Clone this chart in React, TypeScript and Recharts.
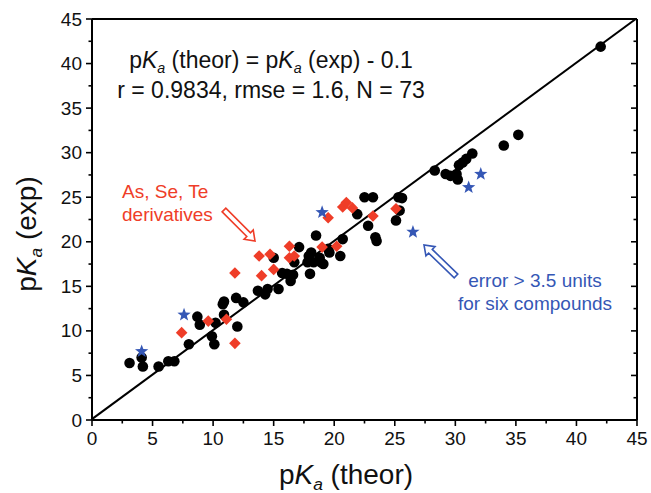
import React from "react";
import { ReferenceLine, Scatter, ScatterChart, XAxis, YAxis } from "recharts";

// [pKa theor, pKa exp]
const mainCompounds: [number, number][] = [
  [3.1, 6.4], [4.1, 7.0], [4.2, 6.0], [5.5, 6.0], [6.3, 6.6], [6.8, 6.6],
  [8.0, 8.5], [8.7, 11.6], [8.9, 10.7], [9.9, 9.4], [10.1, 8.5], [10.2, 10.9],
  [10.8, 13.0], [10.9, 13.3], [10.9, 11.8], [11.9, 13.7], [12.0, 10.5], [12.5, 13.2],
  [13.7, 14.5], [14.3, 14.1], [14.5, 14.7], [15.0, 18.2], [15.4, 14.7], [15.7, 16.5],
  [16.1, 16.4], [16.4, 15.6], [16.6, 16.3], [16.7, 17.7], [17.1, 19.4], [17.8, 17.7],
  [17.9, 18.4], [18.1, 18.8], [18.3, 17.7], [18.0, 16.4], [18.5, 20.7], [18.8, 18.2],
  [18.9, 17.7], [19.1, 17.5], [19.5, 19.2], [19.6, 18.8], [20.5, 18.4], [20.7, 20.3],
  [21.9, 23.1], [22.5, 25.0], [23.2, 25.0], [22.8, 21.8], [23.4, 20.5], [23.5, 20.1],
  [25.1, 22.4], [25.3, 25.0], [25.6, 24.9], [25.4, 23.5], [28.3, 28.0], [29.2, 27.6],
  [29.6, 27.4], [30.1, 27.6], [30.2, 27.0], [30.3, 28.6], [30.6, 28.9], [30.9, 29.3],
  [31.4, 29.9], [34.0, 30.8], [35.2, 32.0], [42.0, 41.9],
];

const asSeTeCompounds: [number, number][] = [
  [7.4, 9.8], [9.6, 11.1], [11.1, 11.3], [11.8, 8.6], [11.8, 16.5], [13.8, 18.4],
  [14.7, 18.6], [14.0, 16.2], [15.0, 16.9], [16.3, 19.5], [16.3, 18.2], [16.7, 18.4],
  [19.0, 19.4], [19.5, 22.7], [20.2, 19.5], [20.7, 23.9], [21.0, 24.4], [21.5, 23.8],
  [23.2, 22.9], [25.1, 23.7],
];

const outlierCompounds: [number, number][] = [
  [4.1, 7.7], [7.6, 11.8], [19.0, 23.3], [26.5, 21.1], [31.1, 26.1], [32.1, 27.6],
];

const allTicks = [0, 2.5, 5, 7.5, 10, 12.5, 15, 17.5, 20, 22.5, 25, 27.5, 30, 32.5, 35, 37.5, 40, 42.5, 45];

const fitOffset = 0.1;

const W = 651;
const H = 493;
const FONT = '"Liberation Sans", Arial, sans-serif';
const RED = "#ef3d28";
const BLUE = "#3557b5";

const toPoints = (rows: [number, number][]) => rows.map(([x, y]) => ({ x, y }));

const isMajor = (v: number) => v % 5 === 0;
const tickLen = (v: number) => (isMajor(v) ? 6 : 3.5);

const BottomTick = ({ x, y, payload }: any) => (
  <g>
    <line x1={x} y1={y} x2={x} y2={y + tickLen(payload.value)} stroke="#000" strokeWidth={1.6} />
    {isMajor(payload.value) && (
      <text x={x} y={y + 25} textAnchor="middle" fontSize={19} fontFamily={FONT} fill="#111">
        {payload.value}
      </text>
    )}
  </g>
);

const LeftTick = ({ x, y, payload }: any) => (
  <g>
    <line x1={x} y1={y} x2={x - tickLen(payload.value)} y2={y} stroke="#000" strokeWidth={1.6} />
    {isMajor(payload.value) && (
      <text x={x - 10} y={y + 6.5} textAnchor="end" fontSize={19} fontFamily={FONT} fill="#111">
        {payload.value}
      </text>
    )}
  </g>
);

const TopTick = ({ x, y, payload }: any) => (
  <line x1={x} y1={y} x2={x} y2={y + tickLen(payload.value)} stroke="#000" strokeWidth={1.6} />
);

const RightTick = ({ x, y, payload }: any) => (
  <line x1={x} y1={y} x2={x - tickLen(payload.value)} y2={y} stroke="#000" strokeWidth={1.6} />
);

const Dot = ({ cx, cy }: any) => <circle cx={cx} cy={cy} r={5.3} fill="#000" />;

const Diamond = ({ cx, cy }: any) => {
  const s = 5.8;
  return <polygon points={`${cx},${cy - s} ${cx + s},${cy} ${cx},${cy + s} ${cx - s},${cy}`} fill={RED} />;
};

const Star = ({ cx, cy }: any) => {
  const pts: string[] = [];
  for (let i = 0; i < 10; i++) {
    const r = i % 2 === 0 ? 7 : 2.9;
    const a = -Math.PI / 2 + (i * Math.PI) / 5;
    pts.push(`${cx + r * Math.cos(a)},${cy + r * Math.sin(a)}`);
  }
  return <polygon points={pts.join(" ")} fill={BLUE} />;
};

// hollow block arrow from tail to head
const BlockArrow = ({ tail, head, color }: { tail: [number, number]; head: [number, number]; color: string }) => {
  const [tx, ty] = tail;
  const [hx, hy] = head;
  const len = Math.hypot(hx - tx, hy - ty);
  const ux = (hx - tx) / len;
  const uy = (hy - ty) / len;
  const nx = -uy;
  const ny = ux;
  const shaft = 2.6;
  const wing = 6.5;
  const headLen = 9;
  const bx = hx - ux * headLen;
  const by = hy - uy * headLen;
  const p = [
    [tx + nx * shaft, ty + ny * shaft],
    [bx + nx * shaft, by + ny * shaft],
    [bx + nx * wing, by + ny * wing],
    [hx, hy],
    [bx - nx * wing, by - ny * wing],
    [bx - nx * shaft, by - ny * shaft],
    [tx - nx * shaft, ty - ny * shaft],
  ];
  return <polygon points={p.map((q) => q.join(",")).join(" ")} fill="#fff" stroke={color} strokeWidth={1.6} />;
};

const PKa = ({ sub = 5 }: { sub?: number }) => (
  <>
    <tspan>p</tspan>
    <tspan fontStyle="italic">K</tspan>
    <tspan fontStyle="italic" fontSize="62%" dy={sub}>a</tspan>
  </>
);

export default function App() {
  return (
    <div style={{ position: "absolute", left: 0, top: 0, width: W, height: H, background: "#fff" }}>
      <ScatterChart width={W} height={H} margin={{ top: 14, right: 9, bottom: 33, left: 32 }}>
        <XAxis
          xAxisId="b"
          type="number"
          dataKey="x"
          domain={[0, 45]}
          ticks={allTicks}
          interval={0}
          height={40}
          tickSize={0}
          tickMargin={0}
          tick={<BottomTick />}
          axisLine={{ stroke: "#000", strokeWidth: 2 }}
          allowDataOverflow
        />
        <XAxis
          xAxisId="t"
          orientation="top"
          type="number"
          domain={[0, 45]}
          ticks={allTicks}
          interval={0}
          height={5}
          tickSize={0}
          tickMargin={0}
          tick={<TopTick />}
          axisLine={{ stroke: "#000", strokeWidth: 2 }}
          allowDataOverflow
        />
        <YAxis
          yAxisId="l"
          type="number"
          dataKey="y"
          domain={[0, 45]}
          ticks={allTicks}
          interval={0}
          width={60}
          tickSize={0}
          tickMargin={0}
          tick={<LeftTick />}
          axisLine={{ stroke: "#000", strokeWidth: 2 }}
          allowDataOverflow
        />
        <YAxis
          yAxisId="r"
          orientation="right"
          type="number"
          domain={[0, 45]}
          ticks={allTicks}
          interval={0}
          width={5}
          tickSize={0}
          tickMargin={0}
          tick={<RightTick />}
          axisLine={{ stroke: "#000", strokeWidth: 2 }}
          allowDataOverflow
        />
        <ReferenceLine
          xAxisId="b"
          yAxisId="l"
          segment={[
            { x: 0, y: fitOffset },
            { x: 45 - fitOffset, y: 45 },
          ]}
          stroke="#000"
          strokeWidth={2}
          ifOverflow="hidden"
        />
        <Scatter xAxisId="b" yAxisId="l" data={toPoints(mainCompounds)} shape={<Dot />} isAnimationActive={false} />
        <Scatter xAxisId="b" yAxisId="l" data={toPoints(asSeTeCompounds)} shape={<Diamond />} isAnimationActive={false} />
        <Scatter xAxisId="b" yAxisId="l" data={toPoints(outlierCompounds)} shape={<Star />} isAnimationActive={false} />
      </ScatterChart>

      <svg width={W} height={H} style={{ position: "absolute", left: 0, top: 0, pointerEvents: "none" }} fontFamily={FONT}>
        <text x={271} y={68} textAnchor="middle" fontSize={23} fill="#111">
          <PKa sub={5} />
          <tspan dy={-5}> (theor) = </tspan>
          <PKa sub={5} />
          <tspan dy={-5}> (exp) - 0.1</tspan>
        </text>
        <text x={271} y={98} textAnchor="middle" fontSize={23} fill="#111">
          r = 0.9834, rmse = 1.6, N = 73
        </text>

        <text x={122} y={198} fontSize={19} fill={RED}>As, Se, Te</text>
        <text x={122} y={221} fontSize={19} fill={RED}>derivatives</text>
        <BlockArrow tail={[224, 210]} head={[255, 241]} color={RED} />

        <text x={535} y={287} textAnchor="middle" fontSize={19} fill={BLUE}>error &gt; 3.5 units</text>
        <text x={535} y={310} textAnchor="middle" fontSize={19} fill={BLUE}>for six compounds</text>
        <BlockArrow tail={[456, 276]} head={[424, 245]} color={BLUE} />

        <text x={346} y={484} textAnchor="middle" fontSize={28} fill="#111">
          <PKa sub={6} />
          <tspan dy={-6}> (theor)</tspan>
        </text>
        <text transform="translate(36,234) rotate(-90)" textAnchor="middle" fontSize={28} fill="#111">
          <PKa sub={6} />
          <tspan dy={-6}> (exp)</tspan>
        </text>
      </svg>
    </div>
  );
}
